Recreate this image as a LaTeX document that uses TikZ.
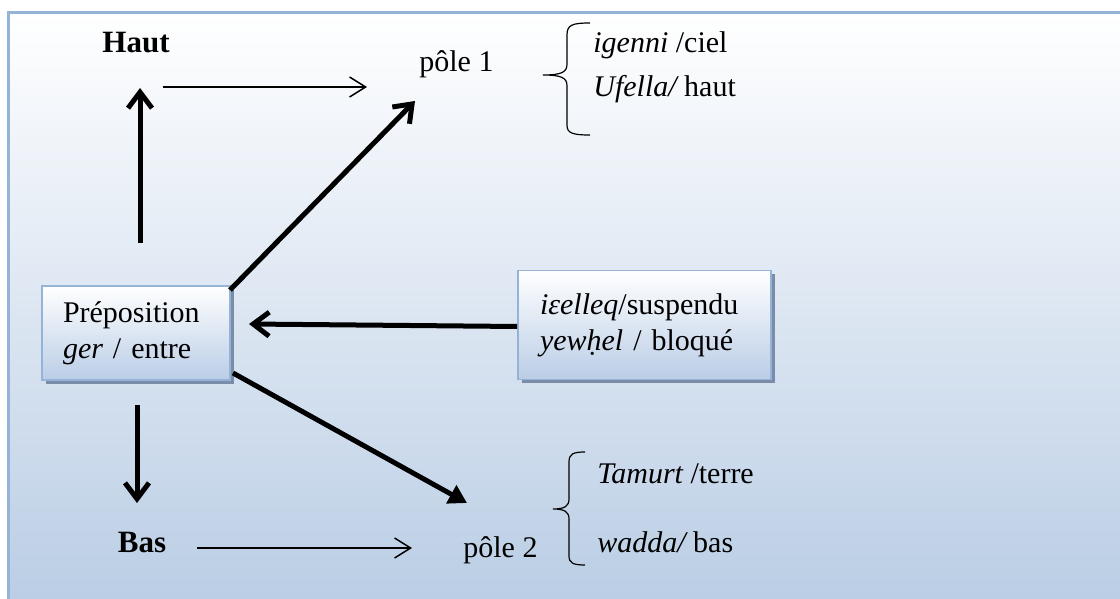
\documentclass[tikz,border=0pt]{standalone}
\usepackage{fontspec}
\setmainfont{Liberation Serif}
\usetikzlibrary{arrows.meta,shadows,calc}
\definecolor{frameblue}{RGB}{149,179,215}
\definecolor{bgbottom}{RGB}{184,204,228}
\definecolor{boxbottom}{RGB}{186,205,230}
\definecolor{shadowblue}{RGB}{122,141,168}
\begin{document}
\begin{tikzpicture}[x=0.5pt,y=-0.5pt,
  font=\fontsize{15}{18}\selectfont,
  lbl/.style={anchor=base west, inner sep=0pt},
  boxnode/.style={draw=frameblue, line width=0.8pt, top color=white, bottom color=boxbottom,
     align=left, inner ysep=0pt, anchor=center,
     drop shadow={shadow xshift=1.8pt, shadow yshift=-1.8pt, fill=shadowblue, opacity=1}},
  thickarrow/.style={line width=2.5pt, -{Straight Barb[length=8pt,width=12pt]}},
  thinarrow/.style={line width=0.75pt, -{Straight Barb[length=8pt,width=10pt]}},
  trianglearrow/.style={line width=2.5pt, -{Triangle[length=9pt,width=10pt]}},
  bracestyle/.style={line width=0.6pt}]
\useasboundingbox (0,0) rectangle (1120,599);
% background
\fill[top color=white, bottom color=bgbottom] (8,13) rectangle (1140,620);
\draw[frameblue, line width=1.5pt] (1140,13) -- (8,13) -- (8,620);

% text nodes
\node[anchor=base, inner sep=0pt, font=\fontsize{15.5}{18}\selectfont\bfseries] (haut) at (136,53) {Haut};
\node[anchor=base, inner sep=0pt, font=\fontsize{15.5}{18}\selectfont\bfseries] (bas) at (142,552) {Bas};
\node[lbl] (pole1) at (419,72) {pôle 1};
\node[lbl] (pole2) at (463,557) {pôle 2};
\node[lbl] (cielt) at (593,53) {{\itshape igenni} /ciel};
\node[lbl] (hautt) at (593,97) {{\itshape Ufella/} haut};
\node[lbl] (terret) at (597,483) {{\itshape Tamurt} /terre};
\node[lbl] (bast) at (597,552) {{\itshape wadda/} bas};

% boxes
\node[boxnode, minimum width=94pt, minimum height=47pt, inner xsep=10.5pt, text width=73pt] (prep) at (136,333)
  {Préposition\\{\itshape ger} / entre};
\node[boxnode, minimum width=126.5pt, minimum height=54.5pt, inner xsep=11pt, text width=104.5pt] (rbox) at (644.5,325)
  {{\itshape iɛelleq}/suspendu\\{\itshape yewḥel} / bloqué};

% connector end points
\coordinate (upS) at (140,243);
\coordinate (upE) at (140,88);
\coordinate (hS) at (163,87);
\coordinate (hE) at (367,87);
\coordinate (d1S) at (230,290);
\coordinate (d1E) at (415,101);
\coordinate (lE) at (249,324);
\coordinate (d2S) at (233,373);
\coordinate (d2E) at (467,503);
\coordinate (dnS) at (137,405);
\coordinate (dnE) at (137,503);
\coordinate (bS) at (197,548);
\coordinate (bE) at (412,548);

\draw[thickarrow] (upS) -- (upE);
\draw[thinarrow] (hS) -- (hE);
\draw[thickarrow] (d1S) -- (d1E);
\draw[thickarrow] ($(rbox.west)+(0,1.5)$) -- (lE);
\draw[trianglearrow] (d2S) -- (d2E);
\draw[thickarrow] (dnS) -- (dnE);
\draw[thinarrow] (bS) -- (bE);

% braces
\draw[bracestyle] (590,23) .. controls (572,23) and (567,25) .. (567,35) -- (567,64)
  .. controls (567,72) and (562,75) .. (543,75)
  .. controls (562,75) and (567,78) .. (567,86) -- (567,125)
  .. controls (567,133) and (572,135) .. (590,135);
\draw[bracestyle] (585,452) .. controls (573,452) and (569,454) .. (569,462) -- (569,499)
  .. controls (569,506) and (565,509) .. (553,509)
  .. controls (565,509) and (569,512) .. (569,519) -- (569,556)
  .. controls (569,563) and (573,565) .. (585,565);
\end{tikzpicture}
\end{document}
